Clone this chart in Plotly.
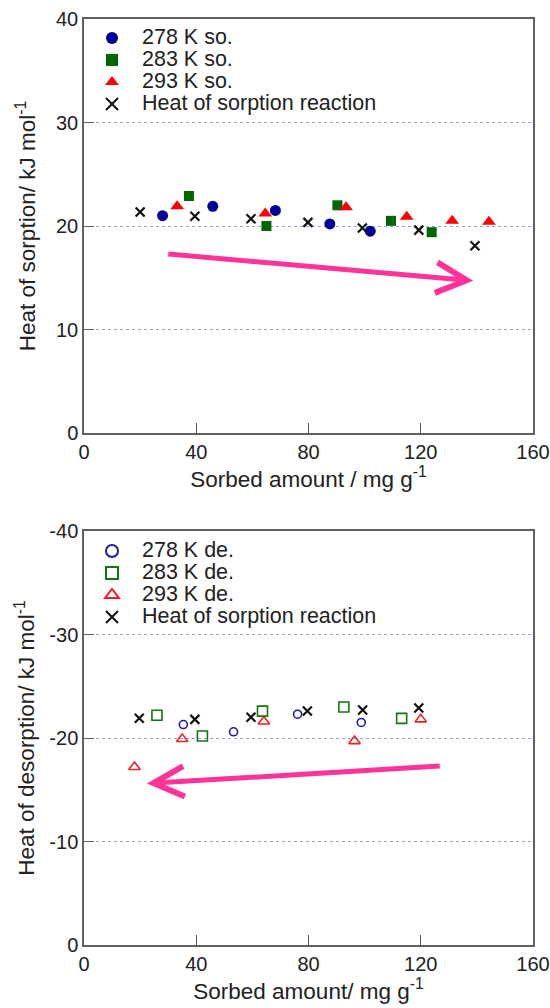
import plotly.graph_objects as go

# ---- Top panel (sorption) ----
so278_x = [28.0, 45.9, 68.2, 87.6, 102.0]
so278_y = [21.0, 21.9, 21.5, 20.2, 19.5]
so283_x = [37.4, 65.0, 90.3, 109.4, 123.9]
so283_y = [22.9, 20.0, 22.0, 20.5, 19.4]
so293_x = [33.2, 64.6, 93.4, 115.0, 131.2, 144.3]
so293_y = [21.9, 21.2, 21.8, 20.9, 20.5, 20.4]
rx_so_x = [20.0, 39.5, 59.5, 79.8, 99.2, 119.3, 139.3]
rx_so_y = [21.35, 20.95, 20.7, 20.35, 19.8, 19.6, 18.1]

# ---- Bottom panel (desorption) ----
de278_x = [35.4, 53.3, 76.1, 98.8]
de278_y = [-21.3, -20.6, -22.3, -21.5]
de283_x = [26.0, 42.2, 63.6, 92.6, 113.2]
de283_y = [-22.2, -20.2, -22.6, -23.0, -21.9]
de293_x = [18.0, 35.0, 64.1, 96.4, 120.0]
de293_y = [-17.2, -19.9, -21.6, -19.7, -21.8]
rx_de_x = [19.7, 39.5, 59.5, 79.6, 99.3, 119.3]
rx_de_y = [-21.9, -21.8, -22.0, -22.6, -22.7, -22.9]

x_ticks = [0, 40, 80, 120, 160]
x_ticklabels = ["0", "40", "80", "120", "160"]
top_y_ticks = [0, 10, 20, 30, 40]
top_y_ticklabels = ["0", "10", "20", "30", "40"]
bot_y_ticks = [0, -10, -20, -30, -40]
bot_y_ticklabels = ["0", "-10", "-20", "-30", "-40"]

# trend arrows (start -> end, data units)
top_arrow = dict(x0=29.5, y0=17.3, x1=138.7, y1=14.7)
bot_arrow = dict(x0=127.3, y0=-17.3, x1=22.4, y1=-15.6)

FONT = "Liberation Sans, Arial, sans-serif"
BLUE = "#000099"
GREEN = "#006600"
RED = "#ff0000"
PINK = "#ff3399"
AXC = "#606060"
GRIDC = "#9a9af0"
TXT = "#222222"
LEG_PX = 21.5


def lname(s):
    return f'<span style="font-size:{LEG_PX}px">{s}</span>'


fig = go.Figure()

# top traces
fig.add_trace(go.Scatter(x=so278_x, y=so278_y, mode="markers", name=lname("278 K so."),
                         marker=dict(symbol="circle", size=11, color=BLUE),
                         xaxis="x", yaxis="y", legend="legend"))
fig.add_trace(go.Scatter(x=so283_x, y=so283_y, mode="markers", name=lname("283 K so."),
                         marker=dict(symbol="square", size=10, color=GREEN),
                         xaxis="x", yaxis="y", legend="legend"))
fig.add_trace(go.Scatter(x=so293_x, y=so293_y, mode="markers", name=lname("293 K so."),
                         marker=dict(symbol="triangle-up", size=12, color=RED),
                         xaxis="x", yaxis="y", legend="legend"))
fig.add_trace(go.Scatter(x=rx_so_x, y=rx_so_y, mode="markers", name=lname("Heat of sorption reaction"),
                         marker=dict(symbol="x-thin", size=9, line=dict(width=2.2, color="#111111")),
                         xaxis="x", yaxis="y", legend="legend"))

# bottom traces
fig.add_trace(go.Scatter(x=de278_x, y=de278_y, mode="markers", name=lname("278 K de."),
                         marker=dict(symbol="circle-open", size=8, line=dict(width=1.6, color="#1a1aaa"), color="#1a1aaa"),
                         xaxis="x2", yaxis="y2", legend="legend2"))
fig.add_trace(go.Scatter(x=de283_x, y=de283_y, mode="markers", name=lname("283 K de."),
                         marker=dict(symbol="square-open", size=10, line=dict(width=1.6, color="#117711"), color="#117711"),
                         xaxis="x2", yaxis="y2", legend="legend2"))
fig.add_trace(go.Scatter(x=de293_x, y=de293_y, mode="markers", name=lname("293 K de."),
                         marker=dict(symbol="triangle-up-open", size=10, line=dict(width=1.6, color="#ee2222"), color="#ee2222"),
                         xaxis="x2", yaxis="y2", legend="legend2"))
fig.add_trace(go.Scatter(x=rx_de_x, y=rx_de_y, mode="markers", name=lname("Heat of sorption reaction"),
                         marker=dict(symbol="x-thin", size=9, line=dict(width=2.2, color="#111111")),
                         xaxis="x2", yaxis="y2", legend="legend2"))

W, H = 550, 1008
xdom = [84 / W, 533 / W]
top_dom = [1 - 433 / H, 1 - 19 / H]
bot_dom = [1 - 945 / H, 1 - 531 / H]


def xaxis(anchor, title):
    return dict(domain=xdom, anchor=anchor, range=[0, 160], tickvals=x_ticks, ticktext=x_ticklabels,
                ticks="inside", ticklen=10, tickcolor=AXC, tickwidth=1,
                showline=True, linecolor=AXC, linewidth=1.5, mirror=True,
                showgrid=False, zeroline=False, automargin=False,
                tickfont=dict(family=FONT, size=20, color=TXT),
                title=dict(text=title, font=dict(family=FONT, size=22.5, color=TXT), standoff=9))


def yaxis(anchor, dom, rng, ticks, labels, title, standoff):
    return dict(domain=dom, anchor=anchor, range=rng, tickvals=ticks, ticktext=labels,
                ticks="inside", ticklen=10, tickcolor=AXC, tickwidth=1,
                showline=True, linecolor=AXC, linewidth=1.5, mirror=True,
                showgrid=True, gridcolor=GRIDC, griddash="dot", gridwidth=1.2,
                zeroline=False, automargin=False,
                tickfont=dict(family=FONT, size=20, color=TXT),
                title=dict(text=title, font=dict(family=FONT, size=22.5, color=TXT), standoff=standoff))


legend_common = dict(font=dict(family=FONT, size=14.6, color=TXT), bgcolor="rgba(0,0,0,0)",
                     borderwidth=0, xanchor="left", yanchor="top", tracegroupgap=0,
                     itemwidth=50, itemsizing="constant")

fig.update_layout(
    width=W, height=H, autosize=False,
    margin=dict(l=0, r=0, t=0, b=0),
    paper_bgcolor="white", plot_bgcolor="white",
    xaxis=xaxis("y", "Sorbed amount / mg g<sup>-1</sup>"),
    yaxis=yaxis("x", top_dom, [0, 40], top_y_ticks, top_y_ticklabels,
                "Heat of sorption/ kJ mol<sup>-1</sup>", 14),
    xaxis2=xaxis("y2", "Sorbed amount/ mg g<sup>-1</sup>"),
    yaxis2=yaxis("x2", bot_dom, [0, -40], bot_y_ticks, bot_y_ticklabels,
                 "Heat of desorption/ kJ mol<sup>-1</sup>", 8),
    legend=dict(x=82 / W, y=1 - 22 / H, **legend_common),
    legend2=dict(x=82 / W, y=1 - 535 / H, **legend_common),
    showlegend=True,
)

for arr, xr, yr in [(top_arrow, "x", "y"), (bot_arrow, "x2", "y2")]:
    fig.add_annotation(x=arr["x1"], y=arr["y1"], ax=arr["x0"], ay=arr["y0"],
                       xref=xr, yref=yr, axref=xr, ayref=yr,
                       showarrow=True, arrowhead=5, arrowsize=1.2, arrowwidth=5,
                       arrowcolor=PINK, text="")

fig.write_html("out.html",
               config={"displayModeBar": False},
               post_script="document.body.style.margin='0px';document.body.style.overflow='hidden';")
